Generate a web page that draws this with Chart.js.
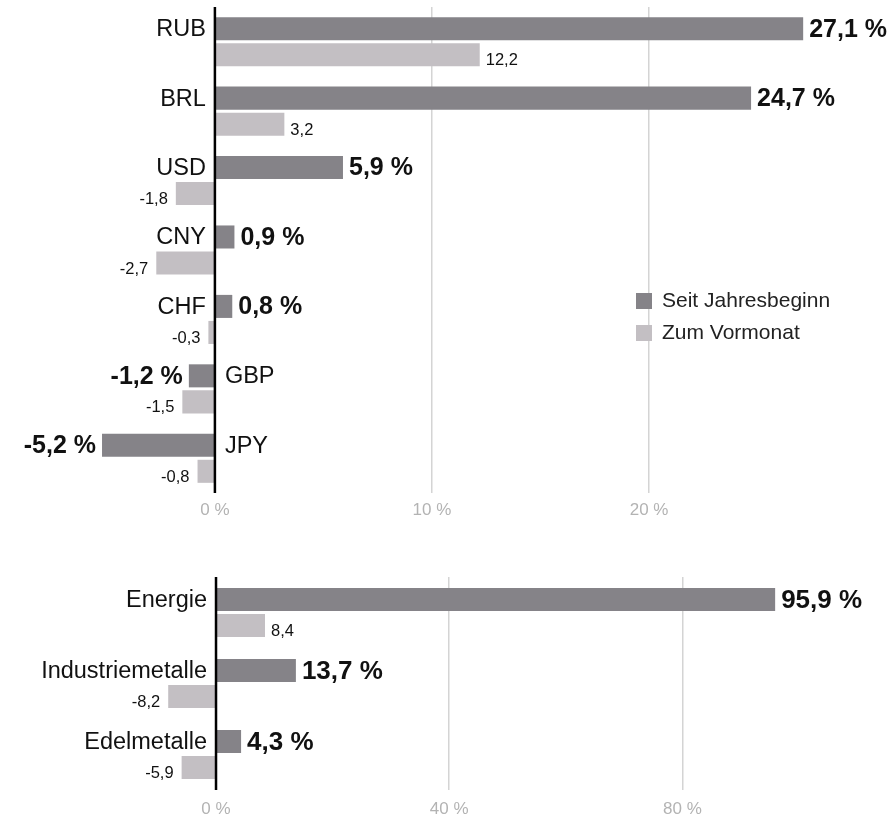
<!DOCTYPE html>
<html>
<head>
    <meta charset="utf-8" />
    <title>Währungen und Rohstoffe</title>
    <script src="https://cdn.jsdelivr.net/npm/chart.js@4.4.1/dist/chart.umd.min.js"></script>
    <style>
        body, html {
            background: white;
            width: 100%;
            height: 100%;
            margin: 0;
            padding: 0;
            overflow: hidden;
            font-family: "Liberation Sans", Arial, sans-serif;
        }
        #topChart { position: absolute; left: 0; top: 0; }
        #bottomChart { position: absolute; left: 0; top: 560px; }
        .legend { position: absolute; left: 636px; font-size: 21px; color: #222; }
        .legend span {
            display: inline-block; width: 16px; height: 16px;
            margin-right: 10px; vertical-align: -2px;
        }
    </style>
</head>
<body>
    <canvas id="topChart" width="890" height="530"></canvas>
    <canvas id="bottomChart" width="890" height="260"></canvas>
    <div class="legend" style="top:288px"><span style="background:#858388"></span>Seit Jahresbeginn</div>
    <div class="legend" style="top:320px"><span style="background:#c3bfc3"></span>Zum Vormonat</div>

    <script>
        // Waehrungen
        const currencies = ['RUB', 'BRL', 'USD', 'CNY', 'CHF', 'GBP', 'JPY'];
        const currencyYtd = [27.1, 24.7, 5.9, 0.9, 0.8, -1.2, -5.2];
        const currencyMom = [12.2, 3.2, -1.8, -2.7, -0.3, -1.5, -0.8];
        const currencyTicks = [0, 10, 20];

        // Rohstoffe
        const commodities = ['Energie', 'Industriemetalle', 'Edelmetalle'];
        const commodityYtd = [95.9, 13.7, 4.3];
        const commodityMom = [8.4, -8.2, -5.9];
        const commodityTicks = [0, 40, 80];

        const DARK = '#858388';
        const LIGHT = '#c3bfc3';
        const FONT = '"Liberation Sans", Arial, sans-serif';

        const fmt = v => v.toFixed(1).replace('.', ',');

        // labels next to bars, category names at the zero line, black zero axis
        function barLabels(boldSize) {
            return {
                id: 'barLabels',
                afterDatasetsDraw(chart) {
                    const ctx = chart.ctx;
                    const zero = chart.scales.x.getPixelForValue(0);
                    const area = chart.chartArea;
                    ctx.save();
                    ctx.textBaseline = 'middle';
                    chart.data.datasets.forEach((ds, di) => {
                        const meta = chart.getDatasetMeta(di);
                        meta.data.forEach((bar, i) => {
                            const v = ds.data[i];
                            ctx.fillStyle = '#111';
                            if (di === 0) {
                                ctx.font = 'bold ' + boldSize + 'px ' + FONT;
                                ctx.textAlign = v >= 0 ? 'left' : 'right';
                                ctx.fillText(fmt(v) + ' %', bar.x + (v >= 0 ? 6 : -6), bar.y + 1);
                                // category name
                                ctx.font = '23.5px ' + FONT;
                                ctx.textAlign = v >= 0 ? 'right' : 'left';
                                ctx.fillText(chart.data.labels[i], zero + (v >= 0 ? -9 : 10), bar.y + 1);
                            } else {
                                ctx.font = '16.5px ' + FONT;
                                ctx.textAlign = v >= 0 ? 'left' : 'right';
                                ctx.fillText(fmt(v), bar.x + (v >= 0 ? 6 : -8), bar.y + 6);
                            }
                        });
                    });
                    ctx.strokeStyle = '#000';
                    ctx.lineWidth = 2.5;
                    ctx.beginPath();
                    ctx.moveTo(zero, area.top);
                    ctx.lineTo(zero, area.bottom);
                    ctx.stroke();
                    ctx.restore();
                }
            };
        }

        function makeChart(id, labels, ytd, mom, ticks, xMin, xMax, padTop, axisH, tickPad, catPct, boldSize) {
            const ctx = document.getElementById(id).getContext('2d');
            return new Chart(ctx, {
                type: 'bar',
                data: {
                    labels,
                    datasets: [
                        { label: 'Seit Jahresbeginn', data: ytd, backgroundColor: DARK,
                          categoryPercentage: catPct, barPercentage: 0.885 },
                        { label: 'Zum Vormonat', data: mom, backgroundColor: LIGHT,
                          categoryPercentage: catPct, barPercentage: 0.885 }
                    ]
                },
                options: {
                    indexAxis: 'y',
                    responsive: false,
                    animation: false,
                    devicePixelRatio: 1,
                    layout: { padding: { top: padTop, left: 0, right: 0, bottom: 0 } },
                    scales: {
                        x: {
                            min: xMin,
                            max: xMax,
                            border: { display: false },
                            afterBuildTicks: s => { s.ticks = ticks.map(v => ({ value: v })); },
                            afterFit: s => { s.height = axisH; },
                            grid: {
                                drawTicks: false,
                                color: c => (c.tick && c.tick.value === 0) ? 'rgba(0,0,0,0)' : '#d4d4d4',
                                lineWidth: 1.5
                            },
                            ticks: {
                                padding: tickPad,
                                color: '#b3b3b3',
                                font: { family: FONT, size: 17 },
                                callback: v => v + ' %'
                            }
                        },
                        y: { display: false }
                    },
                    plugins: {
                        legend: { display: false },
                        tooltip: { enabled: false }
                    }
                },
                plugins: [barLabels(boldSize)]
            });
        }

        window.addEventListener('DOMContentLoaded', () => {
            makeChart('topChart', currencies, currencyYtd, currencyMom, currencyTicks,
                      -9.9, 31.1, 7, 37, 7, 0.75, 25);
            makeChart('bottomChart', commodities, commodityYtd, commodityMom, commodityTicks,
                      -37.05, 115.6, 17, 30, 9, 0.732, 26);
        });
    </script>
</body>
</html>
